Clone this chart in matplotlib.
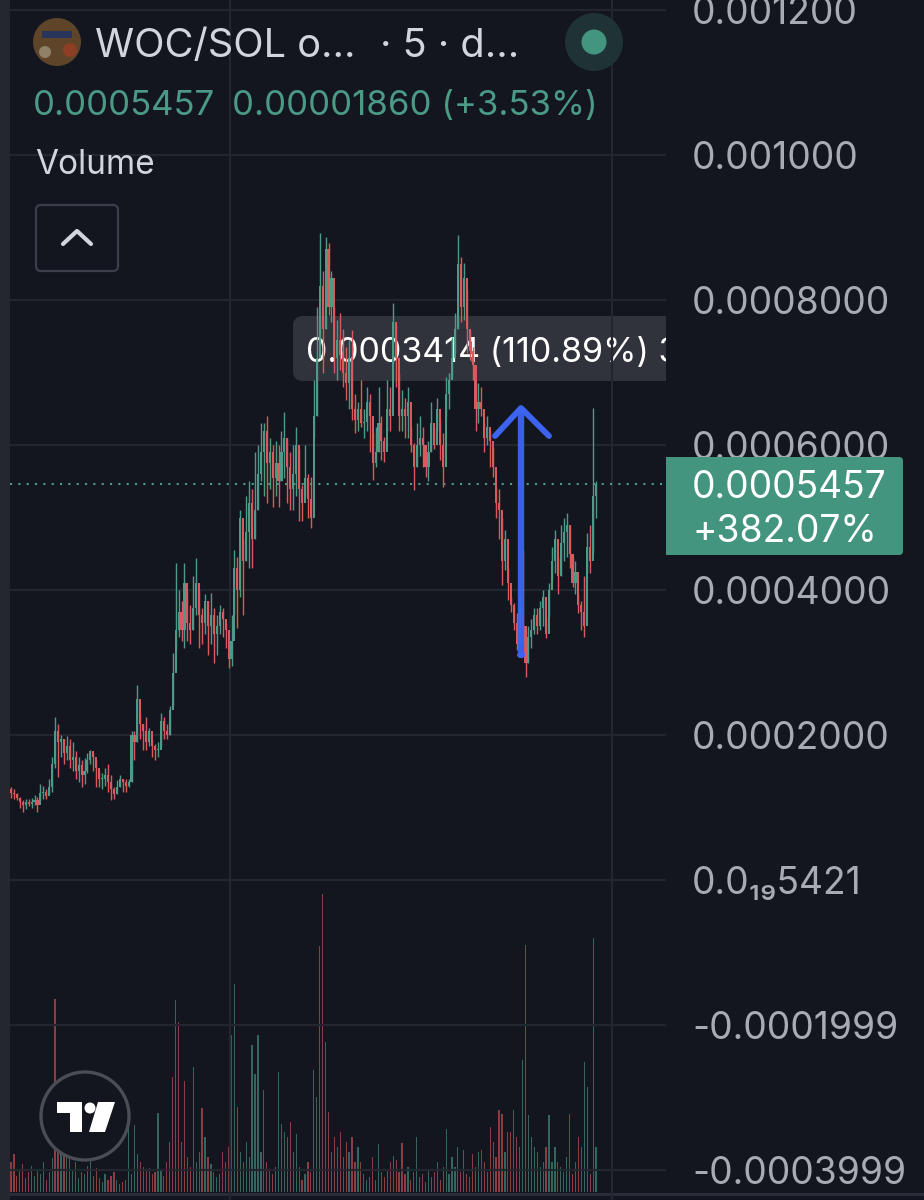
import matplotlib
matplotlib.use("Agg")
import matplotlib.pyplot as plt
from matplotlib.patches import FancyBboxPatch, Circle, Ellipse, Polygon, Rectangle
from matplotlib.transforms import Bbox, TransformedBbox

plt.rcParams['font.family'] = ['Inter', 'Noto Sans', 'DejaVu Sans']

# prices are in millionths of SOL
highs = [
    128,126,120,115,110,112,112,113,117,115,
    132,130,125,140,170,225,215,200,195,198,
    195,190,178,170,165,168,175,180,175,165,
    150,148,155,160,145,128,138,145,140,140,
    140,205,205,269,230,215,225,210,195,188,
    190,230,225,215,240,313,437,400,385,437,
    400,380,420,444,400,375,395,385,396,375,
    365,380,375,355,330,365,455,445,510,470,
    530,550,540,590,600,630,630,640,610,600,
    605,600,620,645,610,590,600,625,595,545,
    600,560,556,690,790,892,840,887,878,840,
    790,772,782,760,735,745,758,670,660,690,
    650,680,670,616,625,680,640,611,690,680,
    796,765,700,676,665,680,625,603,630,640,
    625,590,605,660,625,665,635,616,694,700,
    749,782,889,860,851,814,758,735,685,685,
    680,630,640,620,597,542,540,500,483,430,
    390,382,368,395,455,345,350,360,375,375,
    385,400,363,410,459,483,445,490,500,506,
    490,445,440,396,385,420,478,490,651,550,
]
lows = [
    113,112,110,100,94,98,102,100,103,94,
    110,112,112,118,122,155,142,170,160,165,
    155,150,140,135,128,132,148,160,150,128,
    128,125,130,122,110,112,118,128,122,122,
    128,135,165,190,195,180,180,185,170,165,
    170,185,195,195,200,240,317,335,330,320,
    330,325,345,365,320,325,340,310,325,300,
    310,340,335,320,292,295,365,347,390,365,
    440,430,430,470,510,550,530,520,540,515,
    530,515,550,555,520,510,510,530,495,495,
    530,500,485,611,640,740,700,760,780,770,
    700,690,703,680,662,650,634,616,620,625,
    610,620,590,552,570,590,580,576,620,620,
    713,680,620,620,610,610,590,538,570,585,
    570,556,550,590,595,620,579,542,640,650,
    694,727,760,770,772,727,717,690,620,630,
    640,590,600,570,556,500,470,407,427,386,
    370,345,317,325,330,280,300,320,340,340,
    345,350,334,363,414,423,395,420,440,445,
    430,404,395,368,345,335,423,423,451,500,
]
closes = [
    120,118,113,108,103,108,105,108,110,104,
    120,122,116,128,160,205,190,195,175,185,
    165,170,150,158,145,150,165,178,170,155,
    140,140,145,135,125,118,128,140,135,130,
    135,200,190,250,215,205,190,205,185,180,
    180,220,205,200,235,285,345,370,345,410,
    355,345,375,410,365,355,385,350,365,340,
    350,370,360,345,305,330,430,400,500,440,
    480,520,470,510,560,590,620,575,590,555,
    575,550,590,610,570,540,560,600,540,520,
    555,525,500,640,720,820,760,870,790,830,
    720,745,725,700,685,720,650,635,650,630,
    632,660,640,575,590,630,605,590,650,640,
    770,720,640,650,640,660,600,570,600,610,
    600,570,590,630,600,650,600,570,670,690,
    720,760,850,790,830,760,730,710,650,660,
    650,610,625,605,570,520,510,440,470,410,
    380,355,325,370,350,300,335,345,365,350,
    375,390,340,400,440,470,420,465,480,490,
    450,410,425,380,370,350,460,440,530,546,
]
first_open = 125
volumes = [
    30,38,16,22,28,14,20,26,16,22,
    18,30,12,20,34,193,45,50,42,38,
    36,22,30,14,20,18,26,40,16,24,
    14,10,18,12,16,20,12,8,10,12,
    70,18,67,38,30,25,22,24,18,20,
    79,22,16,30,50,115,192,170,50,111,
    35,25,125,30,40,84,55,35,28,20,
    15,18,40,30,45,157,208,85,40,30,
    50,35,147,118,157,40,102,30,22,18,
    25,120,68,60,55,70,40,58,25,12,
    18,30,20,122,95,246,298,150,80,40,
    55,45,60,35,50,40,55,30,45,30,
    18,12,15,35,12,48,20,15,22,30,
    36,32,20,49,18,25,12,20,55,15,
    18,10,22,15,20,30,12,25,63,18,
    35,25,45,20,42,18,15,38,25,40,
    42,30,20,65,50,35,82,78,40,60,
    60,82,55,45,132,247,77,55,45,40,
    25,30,45,77,30,45,30,25,20,35,
    78,18,30,55,45,130,105,18,254,45,
]
volume_red_bars = [15, 55, 57, 59, 65, 105, 106, 137, 133, 166, 175, 190]
volume_teal_bars = [42, 50, 56, 62, 75, 76, 82, 84, 91, 103, 107, 148, 171, 174, 183, 195, 196, 198]

price_ticks = [1200, 1000, 800, 600, 400, 200, 0, -200, -400]
price_labels = ['0.001200', '0.001000', '0.0008000', '0.0006000', '0.0004000',
                '0.0002000', '0.0\u2081\u20895421', '-0.0001999', '-0.0003999']
time_grid = [74.5, 204.4]
last_price = 545.7

BG = '#14161f'
GRID = '#23262f'
RED = '#d9595c'
TEAL = '#4d9a88'
TXT = '#d3d5dd'
AXTXT = '#a9abb3'
GREEN_TXT = '#4a9a86'
BADGE = '#449580'

W, H = 924, 1200
fig = plt.figure(figsize=(W / 100, H / 100), dpi=100, facecolor=BG)

def rect(x0, y0, x1, y1):
    return [x0 / W, 1 - y1 / H, (x1 - x0) / W, (y1 - y0) / H]

def pixel_axes(zorder):
    a = fig.add_axes([0, 0, 1, 1], zorder=zorder)
    a.set_xlim(0, W)
    a.set_ylim(H, 0)
    a.axis('off')
    a.patch.set_alpha(0)
    return a

# layer under the marks
under = pixel_axes(1)
under.add_patch(Rectangle((0, 0), 10, H, color='#24272f', lw=0))
tip = FancyBboxPatch((299, 322), 361, 53, boxstyle='round,pad=6,rounding_size=10',
                     fc='#30333c', ec='none', lw=0)
under.add_patch(tip)
under.add_patch(Rectangle((650, 316), 16, 65, color='#30333c', lw=0))
t = under.text(306, 362, '0.0003414 (110.89%) 3', color='white', fontsize=24.5, va='baseline')
t.set_clip_box(TransformedBbox(Bbox([[293, 316], [666, 381]]), under.transData))
t.set_clip_on(True)
under.plot([10, W], [1193.5, 1193.5], color='#2a2d37', lw=2.2)

# price and volume axes
pane = rect(10, 0, 666, H)
x_left, x_right = (10 - 11) / 2.94, (666 - 11) / 2.94
per_px = 200 / 145

vol = fig.add_axes(pane, zorder=2)
vol.patch.set_alpha(0)
vol.set_xlim(x_left, x_right)
vol.set_ylim(-8, 1192)
vol.axis('off')

ax = fig.add_axes(pane, zorder=3)
ax.patch.set_alpha(0)
ax.set_xlim(x_left, x_right)
ax.set_ylim(-320 * per_px, 880 * per_px)
for s in ax.spines.values():
    s.set_visible(False)
ax.yaxis.tick_right()
ax.set_yticks(price_ticks)
ax.set_yticklabels(price_labels)
ax.tick_params(axis='y', length=0, pad=18.7, labelsize=26.8, labelcolor=AXTXT)
ax.set_xticks(time_grid)
ax.tick_params(axis='x', length=0, labelbottom=False)
ax.grid(True, color=GRID, lw=1.6)
ax.set_axisbelow(True)

opens = [first_open] + closes[:-1]
for i, (o, h, l, c) in enumerate(zip(opens, highs, lows, closes)):
    col = TEAL if c >= o else RED
    ax.vlines(i, l, h, color=col, lw=1.0, zorder=3)
    ax.bar(i, abs(c - o) or 1, bottom=min(o, c), width=0.72, color=col, lw=0, zorder=3)
    vcol = col
    if i in volume_red_bars:
        vcol = RED
    if i in volume_teal_bars:
        vcol = TEAL
    vol.bar(i, volumes[i], width=0.42, color=vcol, alpha=0.6, lw=0)
ax.axhline(last_price, color=TEAL, lw=1.5, ls=(0, (1, 3)), zorder=2)

# layer above the marks
top = pixel_axes(5)
BLUE = '#3c64f0'
top.plot([521, 521], [655, 409], color=BLUE, lw=4.6, solid_capstyle='round', alpha=0.96)
top.plot([495, 521, 549], [436, 408, 436], color=BLUE, lw=4.2, solid_capstyle='round',
         solid_joinstyle='round')
top.add_patch(Ellipse((521, 655), 8, 6, color=BLUE, lw=0))

top.add_patch(FancyBboxPatch((669, 460), 231, 92, boxstyle='round,pad=3,rounding_size=4',
                             fc=BADGE, ec='none'))
top.add_patch(Rectangle((666, 457), 8, 98, color=BADGE, lw=0))
top.text(692, 498, '0.0005457', color='white', fontsize=26.8, va='baseline')
top.text(692, 542, '+382.07%', color='white', fontsize=26.8, va='baseline')

# legend block
top.text(95, 57, 'WOC/SOL o...', color=TXT, fontsize=28.6, va='baseline')
top.text(380, 57, '\u00b7 5 \u00b7 d...', color=TXT, fontsize=28.6, va='baseline')
top.text(33, 115, '0.0005457', color=GREEN_TXT, fontsize=25, va='baseline')
top.text(232, 115, '0.00001860 (+3.53%)', color=GREEN_TXT, fontsize=25, va='baseline')
top.text(35, 174, 'Volume', color=TXT, fontsize=24, va='baseline')
top.add_patch(FancyBboxPatch((37, 206), 80, 64, boxstyle='round,pad=1,rounding_size=5',
                             fc='none', ec='#3c3f49', lw=1.6))
top.plot([63, 77, 91], [244, 231, 244], color=TXT, lw=3, solid_capstyle='round',
         solid_joinstyle='round')

# status dot
top.add_patch(Circle((594, 42), 29, color='#1f3236', lw=0))
top.add_patch(Circle((594, 42), 12.5, color=BADGE, lw=0))

# token icon
top.add_patch(Circle((57, 42), 24, color='#5e4529', lw=0))
top.add_patch(Circle((45, 52), 6, color='#8f8068', lw=0))
top.add_patch(Circle((70, 50), 7, color='#8c3f24', lw=0))
top.add_patch(Rectangle((42, 31), 30, 7, color='#27345c', lw=0))

# TradingView badge
top.add_patch(Circle((85, 1116), 44, fc=BG, ec='#4b4d56', lw=2.4))
top.add_patch(Polygon([(57, 1102), (82, 1102), (82, 1132), (70, 1132), (70, 1113), (57, 1113)],
                      color='white', lw=0))
top.add_patch(Ellipse((90, 1108), 11, 11, color='white', lw=0))
top.add_patch(Polygon([(98, 1102), (115, 1102), (105, 1132), (89, 1132)], color='white', lw=0))

fig.savefig('out.png', dpi=100, facecolor=BG)
